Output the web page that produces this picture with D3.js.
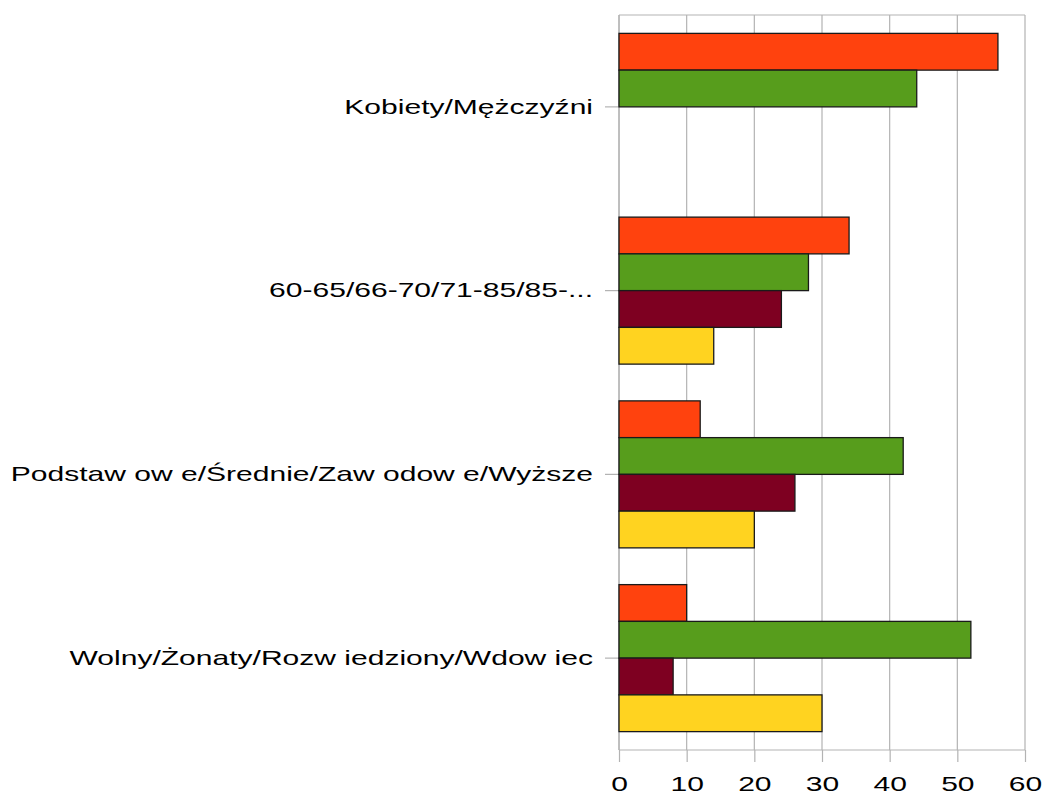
<!DOCTYPE html>
<html>
<head>
<meta charset="utf-8">
<script src="https://cdn.jsdelivr.net/npm/d3@7/dist/d3.min.js"></script>
<style>
  html, body { margin: 0; padding: 0; background: #fff; }
  svg { display: block; }
  text { font-family: "Liberation Sans", Arial, sans-serif; fill: #000; }
</style>
</head>
<body>
<svg id="chart" width="1043" height="794"></svg>
<script>
// Categories (top to bottom)
const categories = [
  "Kobiety/Mężczyźni",
  "60-65/66-70/71-85/85-...",
  "Podstaw ow e/Średnie/Zaw odow e/Wyższe",
  "Wolny/Żonaty/Rozw iedziony/Wdow iec"
];
// Share (%) of each option within a category, first to fourth option
const series1 = [56, 34, 12, 10];
const series2 = [44, 28, 42, 52];
const series3 = [null, 24, 26, 8];
const series4 = [null, 14, 20, 30];
const seriesColors = ["#FF420E", "#579D1C", "#7E0021", "#FFD320"];
const xTicks = [0, 10, 20, 30, 40, 50, 60];

const allSeries = [series1, series2, series3, series4];
const svg = d3.select("#chart");
const margin = { left: 619, right: 18, top: 15, bottom: 44 };
const W = 1043, H = 794;
const stretch = 1.43; // wide glyph rendering of the labels

const x = d3.scaleLinear().domain([0, 60]).range([margin.left, W - margin.right]);
const y = d3.scaleBand().domain(categories).range([margin.top, H - margin.bottom])
  .paddingInner(0.2).paddingOuter(0.1);
const ySeries = d3.scaleBand().domain(d3.range(allSeries.length)).range([0, y.bandwidth()]);

const gridColor = "#b3b3b3";
const y0 = margin.top, y1 = H - margin.bottom;

// vertical grid lines
svg.append("g").selectAll("line").data(xTicks).join("line")
  .attr("x1", d => x(d)).attr("x2", d => x(d))
  .attr("y1", y0).attr("y2", y1)
  .attr("stroke", gridColor).attr("stroke-width", 1.2);

// plot frame (top and bottom)
svg.append("line").attr("x1", x(0)).attr("x2", x(60)).attr("y1", y0).attr("y2", y0)
  .attr("stroke", gridColor).attr("stroke-width", 1.2);
svg.append("line").attr("x1", x(0)).attr("x2", x(60)).attr("y1", y1).attr("y2", y1)
  .attr("stroke", gridColor).attr("stroke-width", 1.2);

// bottom axis
const xAxis = svg.append("g").attr("transform", `translate(0,${y1})`)
  .call(d3.axisBottom(x).tickValues(xTicks).tickSize(12).tickPadding(14));
xAxis.select(".domain").remove();
xAxis.selectAll(".tick line").attr("stroke", gridColor).attr("stroke-width", 1.2);
xAxis.selectAll(".tick text").attr("font-size", 21)
  .attr("font-family", "Liberation Sans, Arial, sans-serif").attr("fill", "#000")
  .attr("dy", "0.71em");

// left axis
const yAxis = svg.append("g").attr("transform", `translate(${x(0)},0)`)
  .call(d3.axisLeft(y).tickSize(14).tickPadding(12));
yAxis.select(".domain").attr("stroke", gridColor).attr("stroke-width", 1.2)
  .attr("d", `M0,${y0}V${y1}`);
yAxis.selectAll(".tick line").attr("stroke", gridColor).attr("stroke-width", 1.2);
yAxis.selectAll(".tick text").attr("font-size", 21)
  .attr("font-family", "Liberation Sans, Arial, sans-serif").attr("fill", "#000");

// widen glyphs horizontally
svg.selectAll(".tick text").each(function () {
  const w = this.getComputedTextLength();
  d3.select(this).attr("textLength", w * stretch).attr("lengthAdjust", "spacingAndGlyphs");
});

// bars
allSeries.forEach((vals, si) => {
  svg.append("g").selectAll("rect")
    .data(categories.map((c, i) => ({ c, v: vals[i] })).filter(d => d.v != null))
    .join("rect")
    .attr("x", x(0))
    .attr("y", d => y(d.c) + ySeries(si))
    .attr("width", d => x(d.v) - x(0))
    .attr("height", ySeries.bandwidth())
    .attr("fill", seriesColors[si])
    .attr("stroke", "#1a1a1a").attr("stroke-width", 1.3);
});
</script>
</body>
</html>
